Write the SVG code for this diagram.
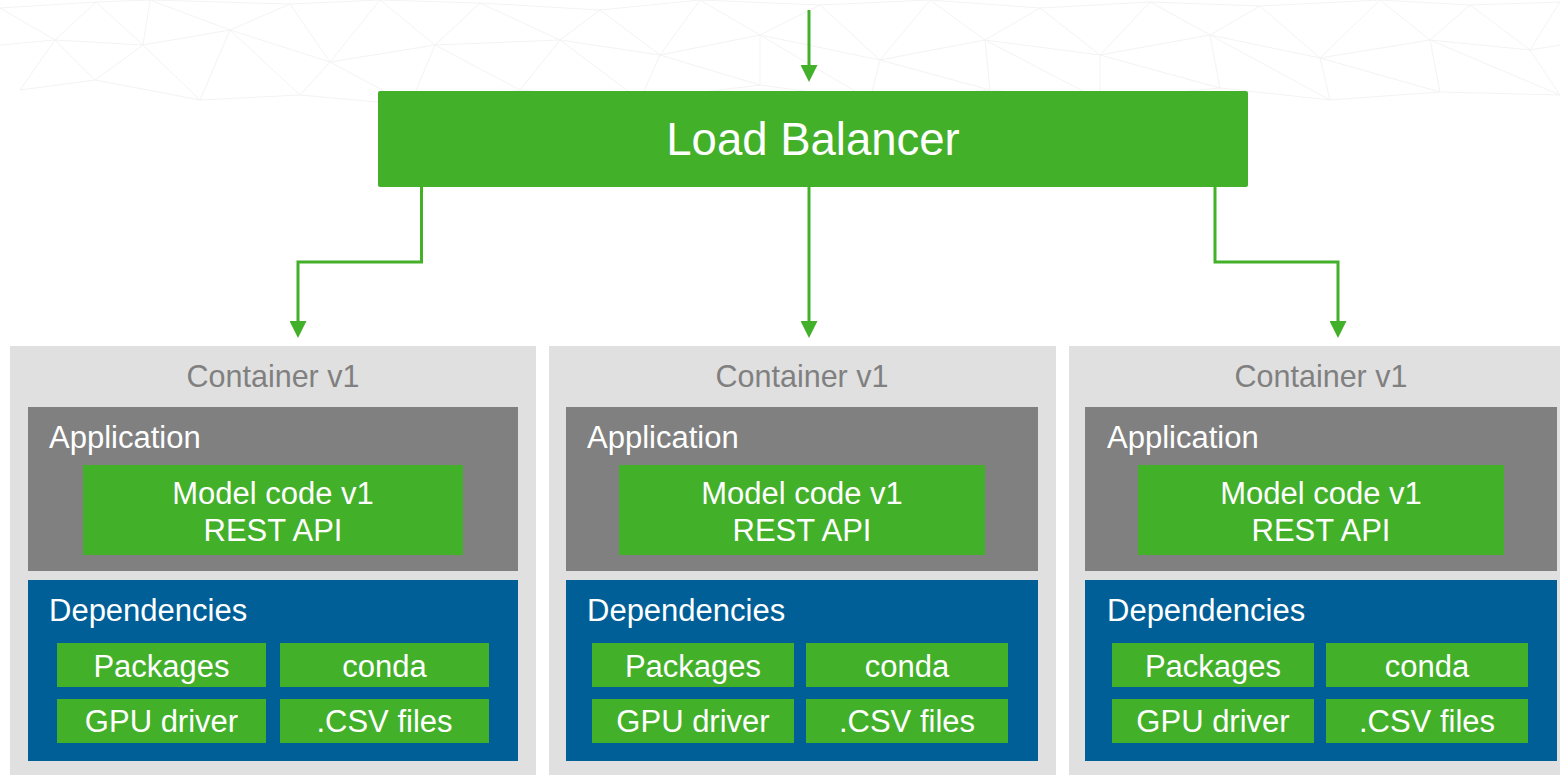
<svg xmlns="http://www.w3.org/2000/svg" width="1560" height="775" viewBox="0 0 1560 775">
  <defs>
    <marker id="arrow" markerUnits="userSpaceOnUse" markerWidth="17" markerHeight="17" viewBox="0 0 17 17" refX="11" refY="8.5" orient="auto">
      <path d="M0,0 L17,8.5 L0,17 Z" fill="#43b02a"/>
    </marker>
    <style>
      text { font-family: "Liberation Sans", Arial, Helvetica, sans-serif; }
      .mesh { fill: none; stroke: #f3f3f3; stroke-width: 1; }
      .lb { fill: #43b02a; }
      .lb-text { fill: #ffffff; font-size: 45.5px; text-anchor: middle; }
      .container { fill: #e0e0e0; }
      .title { fill: #808080; font-size: 30.5px; text-anchor: middle; }
      .app { fill: #808080; }
      .deps { fill: #015f98; }
      .green { fill: #43b02a; }
      .label { fill: #ffffff; font-size: 31px; }
      .center { fill: #ffffff; font-size: 31px; text-anchor: middle; }
      .wire { fill: none; stroke: #43b02a; stroke-width: 3; marker-end: url(#arrow); }
    </style>
  </defs>

  <rect width="1560" height="775" fill="#ffffff"/>

  <!-- faint low-poly background texture along the top edge -->
  <g id="background-mesh" class="mesh">
    <polyline points="0,8 96,2 150,0 290,4 380,0 480,3 600,10 700,0 820,5 930,0 1040,8 1150,2 1260,6 1380,0 1470,5 1560,2"/>
    <polyline points="0,45 55,40 143,45 230,30 330,62 435,45 560,40 660,55 760,35 880,60 985,40 1100,55 1210,35 1320,58 1430,40 1530,50 1560,45"/>
    <polyline points="20,90 95,80 200,100 300,95 410,105 520,90 640,100 760,85 870,100 990,90 1100,100 1220,88 1330,100 1440,92 1560,95"/>
    <polyline points="0,8 55,40 96,2 143,45 150,0 230,30 290,4 330,62 380,0 435,45 480,3 560,40 600,10 660,55 700,0 760,35 820,5 880,60 930,0 985,40 1040,8 1100,55 1150,2 1210,35 1260,6 1320,58 1380,0 1430,40 1470,5 1530,50 1560,2"/>
    <polyline points="20,90 55,40 95,80 143,45 200,100 230,30 300,95 330,62 410,105 435,45 520,90 560,40 640,100 660,55 760,85 760,35 870,100 880,60 990,90 985,40 1100,100 1100,55 1220,88 1210,35 1330,100 1320,58 1440,92 1430,40 1560,95 1530,50"/>
  </g>

  <!-- connectors -->
  <g id="connectors">
    <path class="wire" d="M809,10 V76"/>
    <path class="wire" d="M421.5,187 V262 H298 V332"/>
    <path class="wire" d="M809,187 V332"/>
    <path class="wire" d="M1215,187 V262 H1338 V332"/>
  </g>

  <!-- load balancer -->
  <g id="load-balancer">
    <rect class="lb" x="378" y="91" width="870" height="96" rx="2"/>
    <text class="lb-text" x="813" y="155">Load Balancer</text>
  </g>

  <!-- container 1 -->
  <g id="container-1">
    <rect class="container" x="10" y="346" width="526" height="429"/>
    <text class="title" x="273" y="387">Container v1</text>
    <g id="application-1">
      <rect class="app" x="28" y="407" width="490" height="164"/>
      <text class="label" x="49" y="448">Application</text>
      <rect class="green" x="83" y="465" width="380" height="90"/>
      <text class="center" x="273" y="504">Model code v1</text>
      <text class="center" x="273" y="541">REST API</text>
    </g>
    <g id="dependencies-1">
      <rect class="deps" x="28" y="580" width="490" height="181"/>
      <text class="label" x="49" y="621">Dependencies</text>
      <rect class="green" x="57" y="643" width="209" height="44"/>
      <text class="center" x="161.5" y="677">Packages</text>
      <rect class="green" x="280" y="643" width="209" height="44"/>
      <text class="center" x="384.5" y="677">conda</text>
      <rect class="green" x="57" y="699" width="209" height="44"/>
      <text class="center" x="161.5" y="732">GPU driver</text>
      <rect class="green" x="280" y="699" width="209" height="44"/>
      <text class="center" x="384.5" y="732">.CSV files</text>
    </g>
  </g>

  <!-- container 2 -->
  <g id="container-2">
    <rect class="container" x="549" y="346" width="507" height="429"/>
    <text class="title" x="802" y="387">Container v1</text>
    <g id="application-2">
      <rect class="app" x="566" y="407" width="472" height="164"/>
      <text class="label" x="587" y="448">Application</text>
      <rect class="green" x="619" y="465" width="366" height="90"/>
      <text class="center" x="802" y="504">Model code v1</text>
      <text class="center" x="802" y="541">REST API</text>
    </g>
    <g id="dependencies-2">
      <rect class="deps" x="566" y="580" width="472" height="181"/>
      <text class="label" x="587" y="621">Dependencies</text>
      <rect class="green" x="592" y="643" width="202" height="44"/>
      <text class="center" x="693" y="677">Packages</text>
      <rect class="green" x="806" y="643" width="202" height="44"/>
      <text class="center" x="907" y="677">conda</text>
      <rect class="green" x="592" y="699" width="202" height="44"/>
      <text class="center" x="693" y="732">GPU driver</text>
      <rect class="green" x="806" y="699" width="202" height="44"/>
      <text class="center" x="907" y="732">.CSV files</text>
    </g>
  </g>

  <!-- container 3 (runs off the right edge) -->
  <g id="container-3">
    <rect class="container" x="1069" y="346" width="507" height="429"/>
    <text class="title" x="1321" y="387">Container v1</text>
    <g id="application-3">
      <rect class="app" x="1085" y="407" width="472" height="164"/>
      <text class="label" x="1107" y="448">Application</text>
      <rect class="green" x="1138" y="465" width="366" height="90"/>
      <text class="center" x="1321" y="504">Model code v1</text>
      <text class="center" x="1321" y="541">REST API</text>
    </g>
    <g id="dependencies-3">
      <rect class="deps" x="1085" y="580" width="472" height="181"/>
      <text class="label" x="1107" y="621">Dependencies</text>
      <rect class="green" x="1112" y="643" width="202" height="44"/>
      <text class="center" x="1213" y="677">Packages</text>
      <rect class="green" x="1326" y="643" width="202" height="44"/>
      <text class="center" x="1427" y="677">conda</text>
      <rect class="green" x="1112" y="699" width="202" height="44"/>
      <text class="center" x="1213" y="732">GPU driver</text>
      <rect class="green" x="1326" y="699" width="202" height="44"/>
      <text class="center" x="1427" y="732">.CSV files</text>
    </g>
  </g>
</svg>
